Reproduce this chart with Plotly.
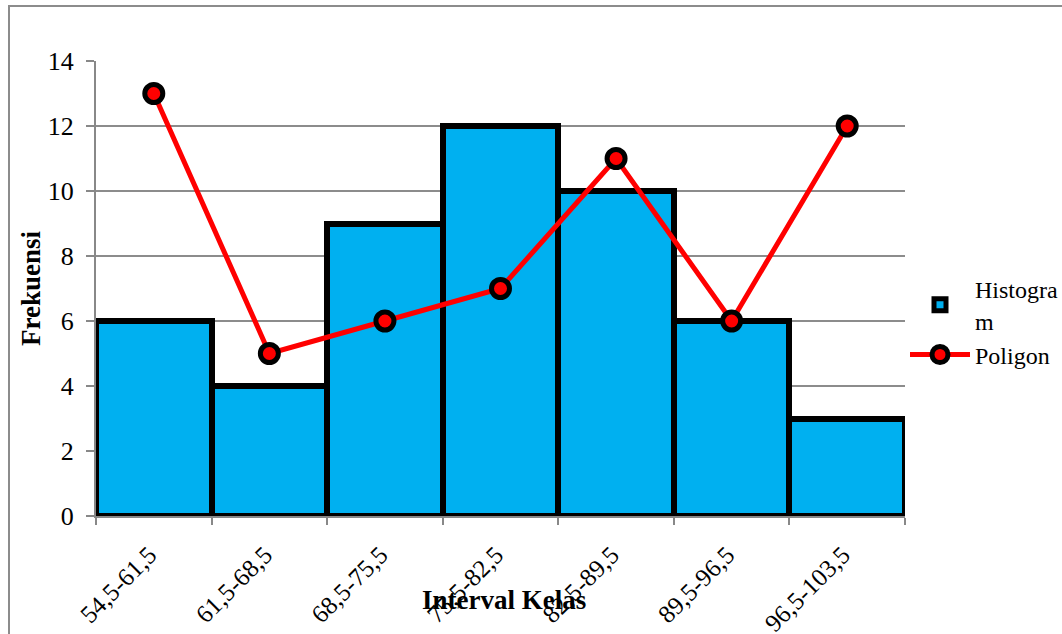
import plotly.graph_objects as go

# Class intervals and frequencies
intervals = ["54,5-61,5", "61,5-68,5", "68,5-75,5", "75,5-82,5",
             "82,5-89,5", "89,5-96,5", "96,5-103,5"]
histogram_freq = [6, 4, 9, 12, 10, 6, 3]
polygon_freq = [13, 5, 6, 7, 11, 6, 12]
y_ticks = [0, 2, 4, 6, 8, 10, 12, 14]

FONT = "Liberation Serif, Times New Roman, serif"

# Plot-area geometry in pixels
W, H = 1062, 634
L, R, T, B = 96, 157, 61, 118
PW, PH = W - L - R, H - T - B


def px_x(x):
    return (x - L) / PW


def px_y(y):
    return (H - B - y) / PH


fig = go.Figure()

fig.add_trace(go.Bar(
    x=intervals, y=histogram_freq, name="Histogra<br>m",
    marker=dict(color="#00B0F0", line=dict(color="#000000", width=6)),
))

fig.add_trace(go.Scatter(
    x=intervals, y=polygon_freq, name="Poligon", mode="lines+markers",
    line=dict(color="#FF0000", width=5),
    marker=dict(symbol="circle", size=18, color="#FF0000",
                line=dict(color="#000000", width=5)),
))

fig.update_layout(
    width=W, height=H,
    margin=dict(l=L, r=R, t=T, b=B, autoexpand=False),
    paper_bgcolor="white", plot_bgcolor="white",
    font=dict(family=FONT, size=25, color="#000000"),
    bargap=0,
    showlegend=True,
    legend=dict(x=px_x(905), xanchor="left", y=px_y(267), yanchor="top",
                font=dict(family=FONT, size=24, color="#000000"),
                itemwidth=60, tracegroupgap=0, bgcolor="rgba(0,0,0,0)"),
    xaxis=dict(
        type="category", tickangle=-45, tickson="boundaries",
        tickvals=intervals,
        # a trailing no-break space nudges each slanted label down-left
        ticktext=[s + "\u00a0" for s in intervals],
        ticks="outside", ticklen=7, tickcolor="#888888", tickwidth=1.5,
        showline=True, linecolor="#888888", linewidth=2,
        showgrid=False, ticklabelstandoff=8, automargin=False,
        tickfont=dict(family=FONT, size=25),
    ),
    yaxis=dict(
        range=[0, 14], tickvals=y_ticks,
        ticks="outside", ticklen=8, tickcolor="#888888", tickwidth=1.5,
        showline=True, linecolor="#888888", linewidth=2,
        showgrid=True, gridcolor="#8C8C8C", gridwidth=1.5,
        zeroline=False, ticklabelstandoff=7, automargin=False,
        tickfont=dict(family=FONT, size=26),
    ),
    annotations=[
        dict(text="<b>Frekuensi</b>", x=px_x(31), y=px_y(288),
             xref="paper", yref="paper", xanchor="center", yanchor="middle",
             showarrow=False, textangle=-90,
             font=dict(family=FONT, size=27, color="#000000")),
        dict(text="<b>Interval Kelas</b>", x=px_x(504), y=px_y(600),
             xref="paper", yref="paper", xanchor="center", yanchor="middle",
             showarrow=False,
             font=dict(family=FONT, size=27, color="#000000")),
    ],
    shapes=[
        # chart-area frame
        dict(type="rect", xref="paper", yref="paper",
             x0=px_x(9), x1=px_x(1075), y0=px_y(645), y1=px_y(6),
             line=dict(color="#8C8C8C", width=2), layer="below"),
    ],
)

fig.write_html("out.html")
